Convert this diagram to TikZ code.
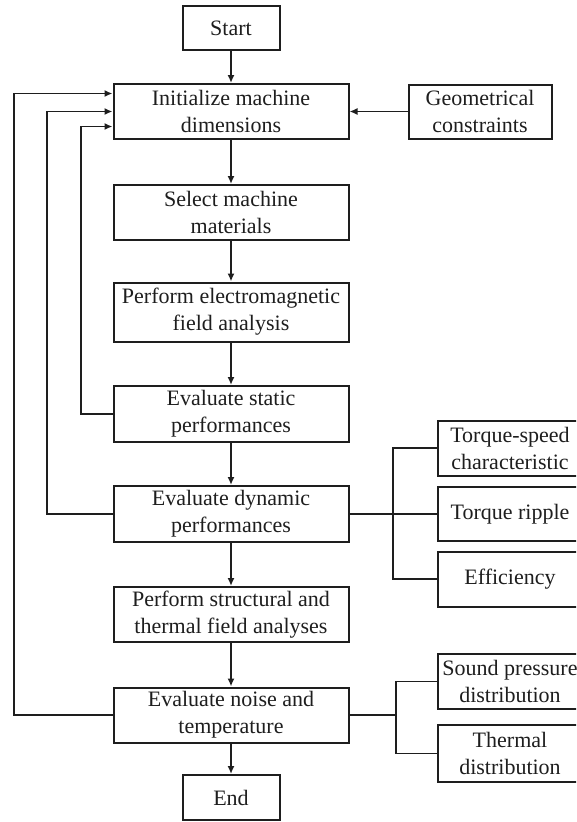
\documentclass[tikz,border=0pt]{standalone}
\usepackage{fontspec}
\setmainfont{Liberation Serif}
\usetikzlibrary{arrows.meta,calc}
\definecolor{ink}{HTML}{1E1E1E}
\begin{document}
\begin{tikzpicture}[x=1pt,y=-1pt,
  every node/.style={text=ink},
  stepbox/.style={draw=ink, line width=2pt, fill=white, inner sep=0pt,
    align=center, font=\fontsize{22}{27}\selectfont},
  mainbox/.style={stepbox, minimum width=235pt, minimum height=55pt},
  endbox/.style={stepbox, minimum width=97pt, minimum height=44pt},
  sidebox/.style={stepbox, minimum width=144pt, minimum height=55pt},
  flow/.style={draw=ink, line width=1.9pt, -{Latex[length=8pt,width=7pt]}},
  link/.style={draw=ink, line width=1.9pt}]
  \clip (0,0) rectangle (576,822);
  \fill[white] (0,0) rectangle (576,822);

  % main chain
  \node[endbox]  (start)  at (231,28)    {Start};
  \node[mainbox] (init)   at (231,111.5) {Initialize machine\\dimensions};
  \node[stepbox, minimum width=143pt, minimum height=54pt]
                 (geo)    at (480,111.5) {Geometrical\\constraints};
  \node[mainbox] (select) at (231,212.5) {Select machine\\materials};
  \node[mainbox, minimum height=59pt]
                 (em)     at (231,312)   {Perform electromagnetic\\field analysis};
  \node[mainbox, minimum height=56pt]
                 (static) at (231,414)   {Evaluate static\\performances};
  \node[mainbox, minimum height=56pt]
                 (dyn)    at (231,514)   {Evaluate dynamic\\performances};
  \node[mainbox] (struct) at (231,614.5) {Perform structural and\\thermal field analyses};
  \node[mainbox] (noise)  at (231,715)   {Evaluate noise and\\temperature};
  \node[endbox, minimum height=45pt]
                 (end)    at (231,797.5) {End};

  % result boxes on the right
  \node[sidebox] (ts)  at (510,448) {Torque-speed\\characteristic};
  \node[sidebox, minimum height=54pt] (tr)  at (510,514) {Torque ripple};
  \node[sidebox] (eff) at (510,579) {Efficiency};
  \node[sidebox] (sp)  at (510,681.5) {Sound pressure\\distribution};
  \node[sidebox, minimum height=57pt] (th)  at (510,753.5) {Thermal\\distribution};

  % downward flow
  \draw[flow] (start) -- (init);
  \draw[flow] (init) -- (select);
  \draw[flow] (select) -- (em);
  \draw[flow] (em) -- (static);
  \draw[flow] (static) -- (dyn);
  \draw[flow] (dyn) -- (struct);
  \draw[flow] (struct) -- (noise);
  \draw[flow] (noise) -- (end);
  \draw[flow] (geo) -- (init);

  % feedback loops into the initialization step
  \coordinate (fbA) at (14,0);
  \coordinate (fbB) at (47,0);
  \coordinate (fbC) at (81,0);
  \coordinate (inA) at ($(init.west)+(0pt,18pt)$);
  \coordinate (inB) at (init.west);
  \coordinate (inC) at ($(init.west)+(0pt,-15pt)$);
  \draw[flow] (noise.west) -- (noise.west -| fbA) -- (fbA |- inA) -- (inA);
  \draw[flow] (dyn.west) -- (dyn.west -| fbB) -- (fbB |- inB) -- (inB);
  \draw[flow] (static.west) -- (static.west -| fbC) -- (fbC |- inC) -- (inC);

  % branches to the results
  \coordinate (busA) at (393,0);
  \coordinate (busB) at (396,0);
  \draw[link] (dyn.east) -- (tr.west);
  \draw[link] (ts.west) -- (ts.west -| busA) -- (eff.west -| busA) -- (eff.west);
  \draw[link] (noise.east) -- (noise.east -| busB);
  \draw[link] (sp.west) -- (sp.west -| busB) -- (th.west -| busB) -- (th.west);
\end{tikzpicture}
\end{document}
